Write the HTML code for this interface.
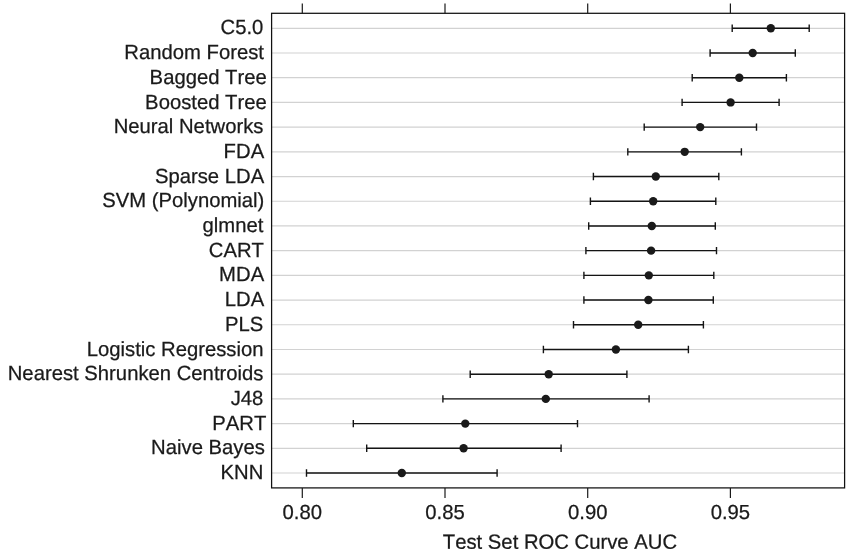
<!DOCTYPE html>
<html lang="en"><head><meta charset="utf-8"><title>Test Set ROC Curve AUC</title>
<style>html,body{margin:0;padding:0;background:#fff}body{width:850px;height:555px;overflow:hidden}svg{display:block;will-change:transform;opacity:.999}text{font-family:"Liberation Sans",sans-serif;font-size:20.27px;fill:#1a1a1a;font-kerning:none;stroke:#1a1a1a;stroke-width:.25px;text-rendering:geometricPrecision}</style></head><body>
<svg width="850" height="555" viewBox="0 0 850 555">
<rect width="850" height="555" fill="#fff"/>
<g stroke="#d2d2d2" stroke-width="1.2">
<line x1="271.6" y1="28.30" x2="844.5" y2="28.30"/>
<line x1="271.6" y1="53.01" x2="844.5" y2="53.01"/>
<line x1="271.6" y1="77.71" x2="844.5" y2="77.71"/>
<line x1="271.6" y1="102.42" x2="844.5" y2="102.42"/>
<line x1="271.6" y1="127.12" x2="844.5" y2="127.12"/>
<line x1="271.6" y1="151.83" x2="844.5" y2="151.83"/>
<line x1="271.6" y1="176.54" x2="844.5" y2="176.54"/>
<line x1="271.6" y1="201.24" x2="844.5" y2="201.24"/>
<line x1="271.6" y1="225.95" x2="844.5" y2="225.95"/>
<line x1="271.6" y1="250.65" x2="844.5" y2="250.65"/>
<line x1="271.6" y1="275.36" x2="844.5" y2="275.36"/>
<line x1="271.6" y1="300.07" x2="844.5" y2="300.07"/>
<line x1="271.6" y1="324.77" x2="844.5" y2="324.77"/>
<line x1="271.6" y1="349.48" x2="844.5" y2="349.48"/>
<line x1="271.6" y1="374.18" x2="844.5" y2="374.18"/>
<line x1="271.6" y1="398.89" x2="844.5" y2="398.89"/>
<line x1="271.6" y1="423.60" x2="844.5" y2="423.60"/>
<line x1="271.6" y1="448.30" x2="844.5" y2="448.30"/>
<line x1="271.6" y1="473.01" x2="844.5" y2="473.01"/>
</g>
<g stroke="#141414" stroke-width="1.4" fill="none">
<path d="M732.2 28.30H809.2M732.2 24.60v7.4M809.2 24.60v7.4"/>
<path d="M710.1 53.01H795.3M710.1 49.31v7.4M795.3 49.31v7.4"/>
<path d="M692.2 77.71H786.4M692.2 74.01v7.4M786.4 74.01v7.4"/>
<path d="M682.1 102.42H779.1M682.1 98.72v7.4M779.1 98.72v7.4"/>
<path d="M644.2 127.12H756.5M644.2 123.42v7.4M756.5 123.42v7.4"/>
<path d="M627.8 151.83H741.4M627.8 148.13v7.4M741.4 148.13v7.4"/>
<path d="M593.4 176.54H718.8M593.4 172.84v7.4M718.8 172.84v7.4"/>
<path d="M590.4 201.24H715.8M590.4 197.54v7.4M715.8 197.54v7.4"/>
<path d="M588.7 225.95H715.3M588.7 222.25v7.4M715.3 222.25v7.4"/>
<path d="M585.9 250.65H716.5M585.9 246.95v7.4M716.5 246.95v7.4"/>
<path d="M583.9 275.36H713.8M583.9 271.66v7.4M713.8 271.66v7.4"/>
<path d="M583.9 300.07H713.3M583.9 296.37v7.4M713.3 296.37v7.4"/>
<path d="M573.5 324.77H703.4M573.5 321.07v7.4M703.4 321.07v7.4"/>
<path d="M543.4 349.48H688.4M543.4 345.78v7.4M688.4 345.78v7.4"/>
<path d="M470.2 374.18H626.9M470.2 370.48v7.4M626.9 370.48v7.4"/>
<path d="M442.9 398.89H649.1M442.9 395.19v7.4M649.1 395.19v7.4"/>
<path d="M353.3 423.60H577.5M353.3 419.90v7.4M577.5 419.90v7.4"/>
<path d="M366.7 448.30H561.1M366.7 444.60v7.4M561.1 444.60v7.4"/>
<path d="M306.5 473.01H497.1M306.5 469.31v7.4M497.1 469.31v7.4"/>
</g>
<g fill="#1a1a1a">
<circle cx="770.8" cy="28.30" r="4.2"/>
<circle cx="752.7" cy="53.01" r="4.2"/>
<circle cx="739.3" cy="77.71" r="4.2"/>
<circle cx="730.6" cy="102.42" r="4.2"/>
<circle cx="700.2" cy="127.12" r="4.2"/>
<circle cx="684.7" cy="151.83" r="4.2"/>
<circle cx="655.8" cy="176.54" r="4.2"/>
<circle cx="653.2" cy="201.24" r="4.2"/>
<circle cx="651.8" cy="225.95" r="4.2"/>
<circle cx="651.1" cy="250.65" r="4.2"/>
<circle cx="648.8" cy="275.36" r="4.2"/>
<circle cx="648.4" cy="300.07" r="4.2"/>
<circle cx="638.2" cy="324.77" r="4.2"/>
<circle cx="615.9" cy="349.48" r="4.2"/>
<circle cx="548.7" cy="374.18" r="4.2"/>
<circle cx="545.8" cy="398.89" r="4.2"/>
<circle cx="465.3" cy="423.60" r="4.2"/>
<circle cx="463.6" cy="448.30" r="4.2"/>
<circle cx="401.8" cy="473.01" r="4.2"/>
</g>
<rect x="271.6" y="13.3" width="573.0" height="474.6" fill="none" stroke="#111" stroke-width="1.25"/>
<g stroke="#1a1a1a" stroke-width="1.2">
<line x1="302.3" y1="3.6" x2="302.3" y2="13.3"/>
<line x1="302.3" y1="487.9" x2="302.3" y2="497.9"/>
<line x1="445.0" y1="3.6" x2="445.0" y2="13.3"/>
<line x1="445.0" y1="487.9" x2="445.0" y2="497.9"/>
<line x1="587.7" y1="3.6" x2="587.7" y2="13.3"/>
<line x1="587.7" y1="487.9" x2="587.7" y2="497.9"/>
<line x1="730.4" y1="3.6" x2="730.4" y2="13.3"/>
<line x1="730.4" y1="487.9" x2="730.4" y2="497.9"/>
</g>
<g>
<text transform="translate(220.54,34.00) skewY(0.03) scale(1,1.01)">C5.0</text>
<text transform="translate(124.28,59.00) skewY(0.03) scale(1,1.01)">Random Forest</text>
<text transform="translate(149.62,84.00) skewY(0.03) scale(1,1.01)">Bagged Tree</text>
<text transform="translate(145.12,109.00) skewY(0.03) scale(1,1.01)">Boosted Tree</text>
<text transform="translate(113.66,133.00) skewY(0.03) scale(1,1.01)">Neural Networks</text>
<text transform="translate(223.62,158.00) skewY(0.03) scale(1,1.01)">FDA</text>
<text transform="translate(154.89,183.00) skewY(0.03) scale(1,1.01)">Sparse LDA</text>
<text transform="translate(102.18,207.00) skewY(0.03) scale(1,1.01)">SVM (Polynomial)</text>
<text transform="translate(202.52,232.00) skewY(0.03) scale(1,1.01)">glmnet</text>
<text transform="translate(208.78,257.00) skewY(0.03) scale(1,1.01)">CART</text>
<text transform="translate(219.12,281.00) skewY(0.03) scale(1,1.01)">MDA</text>
<text transform="translate(224.74,306.00) skewY(0.03) scale(1,1.01)">LDA</text>
<text transform="translate(225.04,331.00) skewY(0.03) scale(1,1.01)">PLS</text>
<text transform="translate(86.70,356.00) skewY(0.03) scale(1,1.01)">Logistic Regression</text>
<text transform="translate(7.73,380.00) skewY(0.03) scale(1,1.01)">Nearest Shrunken Centroids</text>
<text transform="translate(230.67,405.00) skewY(0.03) scale(1,1.01)">J48</text>
<text transform="translate(212.33,430.00) skewY(0.03) scale(1,1.01)">PART</text>
<text transform="translate(151.09,454.00) skewY(0.03) scale(1,1.01)">Naive Bayes</text>
<text transform="translate(220.56,479.00) skewY(0.03) scale(1,1.01)">KNN</text>
</g>
<g text-anchor="middle">
<text transform="translate(302.30,519.00) skewY(0.03) scale(1,1.0)">0.80</text>
<text transform="translate(445.00,519.00) skewY(0.03) scale(1,1.0)">0.85</text>
<text transform="translate(587.70,519.00) skewY(0.03) scale(1,1.0)">0.90</text>
<text transform="translate(730.40,519.00) skewY(0.03) scale(1,1.0)">0.95</text>
</g>
<text transform="translate(442.80,548.70) skewY(0.03) scale(1,1.015)" style="font-size:20.27px">Test Set ROC Curve AUC</text>
</svg></body></html>
